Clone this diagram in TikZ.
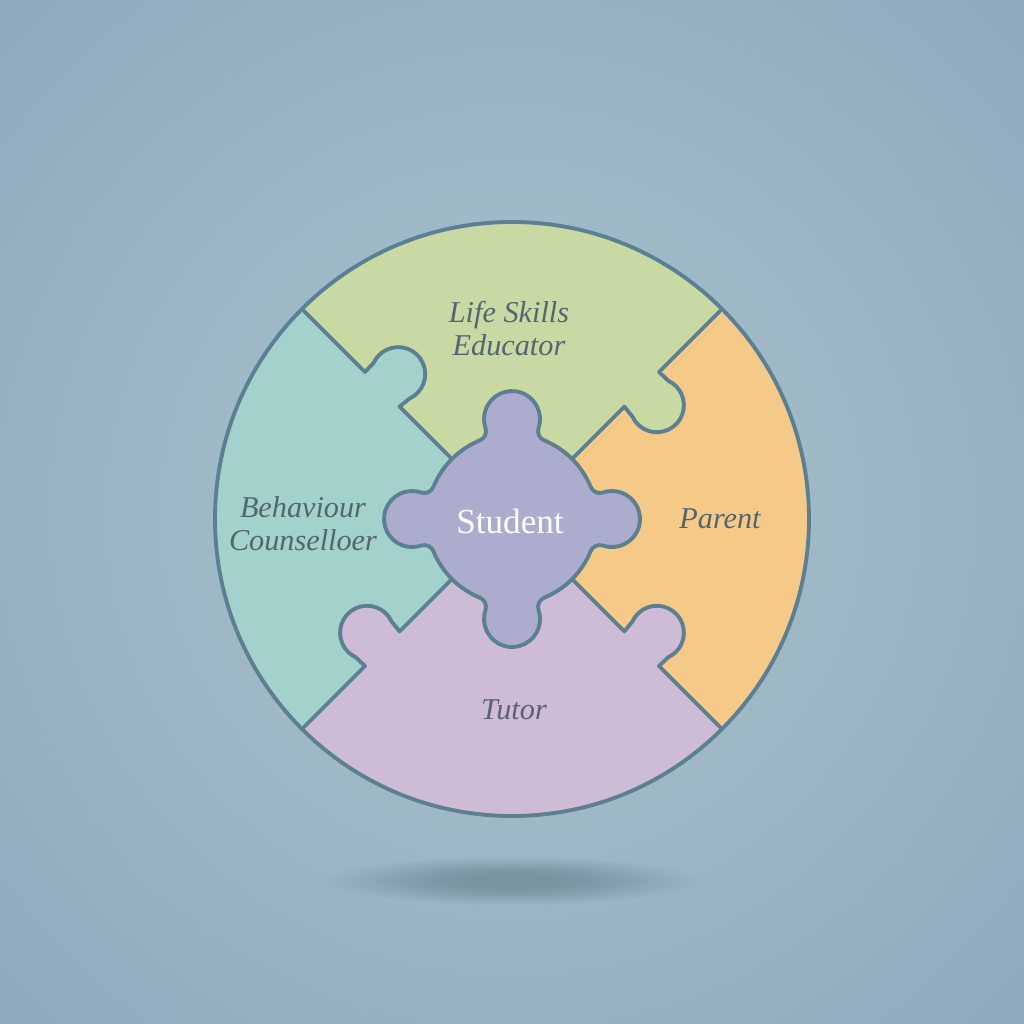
\documentclass[tikz,border=0pt]{standalone}
\usepackage{fontspec}
\setmainfont{Liberation Serif}
\definecolor{bgin}{RGB}{162,188,201}
\definecolor{bgout}{RGB}{130,158,180}
\definecolor{edge}{RGB}{92,127,146}
\definecolor{greenp}{RGB}{200,217,164}
\definecolor{orangep}{RGB}{245,202,137}
\definecolor{lilacp}{RGB}{206,188,214}
\definecolor{tealp}{RGB}{163,209,203}
\definecolor{studentp}{RGB}{172,172,207}
\definecolor{labeltext}{RGB}{82,102,114}
\definecolor{tutortext}{RGB}{92,94,122}
\pgfdeclareradialshading{backdrop}{\pgfpoint{0bp}{0bp}}{color(0bp)=(bgin); color(10bp)=(bgin); color(50bp)=(bgout)}

\begin{document}
\begin{tikzpicture}[scale=0.01,
    piece/.style={draw=edge, line width=1.1pt, line join=round},
    lbl/.style={text=labeltext, font=\fontsize{8.6}{9.4}\selectfont\itshape, align=center}]
    \useasboundingbox (-512,-505) rectangle (512,519);
    \shade[shading=backdrop] (-512,-505) rectangle (512,519);
    % soft shadow under the circle
    \foreach \i in {0,...,19}
        \fill[edge!70!black, opacity=0.014] (0,-362) ellipse [x radius={185-7.5*\i}, y radius={24-0.9*\i}];
    % the four outer pieces
    \fill[greenp] (0,0) -- (45:297) arc[start angle=45, end angle=135, radius=297] -- cycle;
    \fill[tealp] (0,0) -- (135:297) arc[start angle=135, end angle=225, radius=297] -- cycle;
    \fill[lilacp] (0,0) -- (225:297) arc[start angle=225, end angle=315, radius=297] -- cycle;
    \fill[orangep] (0,0) -- (-45:297) arc[start angle=-45, end angle=45, radius=297] -- cycle;
    % cuts with their tabs
    \foreach \ang/\sd/\col in {135/-1/tealp, 45/-1/greenp, 225/-1/lilacp, 315/1/lilacp} {
        \begin{scope}[rotate=\ang, yscale=\sd]
            \fill[\col] (159,0) -- (157.6,12.8) arc[start angle=200, end angle=-20, radius=27] -- (208,0) -- cycle;
            \draw[piece] (80,0) -- (159,0) -- (157.6,12.8) arc[start angle=200, end angle=-20, radius=27] -- (208,0) -- (297,0);
        \end{scope}
    }
    \draw[piece] (0,0) circle[radius=297];
    % centre piece
    \draw[piece, fill=studentp] (-45:85) \foreach \a in {0,90,180,270} {
        arc[start angle=\a-45, end angle=\a-22.3, radius=85]
        arc[start angle=\a+157.7, end angle=\a+71.4, radius=10]
        arc[start angle=\a-108.6, end angle=\a+108.6, radius=28]
        arc[start angle=\a-71.4, end angle=\a-157.7, radius=10]
        arc[start angle=\a+22.3, end angle=\a+45, radius=85]
    } -- cycle;
    % labels
    \node[lbl] (educator) at (-3,190) {Life Skills\\Educator};
    \node[lbl] (counsellor) at (-209,-5) {Behaviour\\Counselloer};
    \node[lbl] (parent) at (208,0) {Parent};
    \node[lbl, text=tutortext] (tutor) at (2,-191) {Tutor};
    \node[text=white, font=\fontsize{10}{12}\selectfont] (student) at (-2,-2) {Student};
\end{tikzpicture}
\end{document}
